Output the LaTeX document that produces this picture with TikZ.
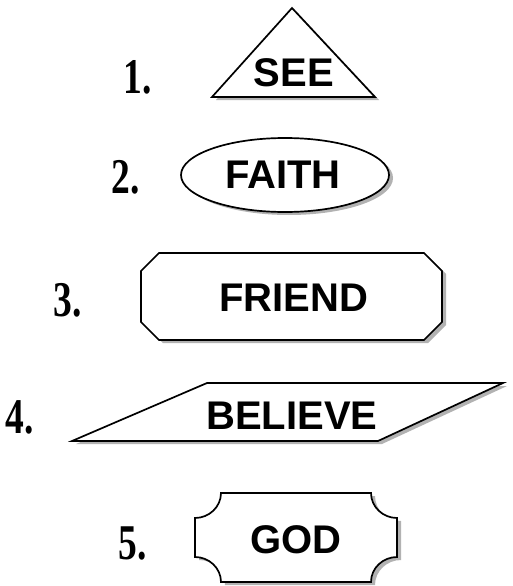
\documentclass[tikz,border=0pt]{standalone}
\usepackage{fontspec}
\setmainfont{Liberation Serif}
\newfontfamily\wordfont{Liberation Sans}
\begin{document}
\begin{tikzpicture}[x=1pt,y=-1pt,
  outline/.style={draw=black,line width=1.7pt,fill=white,line join=miter},
  shadowfill/.style={fill=gray!60,draw=none},
  word/.style={font=\wordfont\bfseries\fontsize{40}{46}\selectfont, inner sep=0pt},
  num/.style={font=\bfseries\fontsize{50}{56}\selectfont, inner sep=0pt}]
\useasboundingbox[fill=white] (0,0) rectangle (512,586);
% 1. triangle
\fill[shadowfill] (296,11) -- (379,100) -- (216,100) -- cycle;
\draw[outline] (292,8) -- (375,97) -- (212,97) -- cycle;
\node[word] (see) at (294,73) {SEE};
\node[num] (n1) at (138,77) {\scalebox{0.75}[1]{1.}};
% 2. ellipse
\fill[shadowfill] (289,178) ellipse [x radius=104, y radius=37];
\draw[outline] (285,175) ellipse [x radius=104, y radius=37];
\node[word] (faith) at (283,175) {FAITH};
\node[num] (n2) at (126,177) {\scalebox{0.75}[1]{2.}};
% 3. octagon
\fill[shadowfill] (163,256) -- (428,256) -- (446,274) -- (446,325) -- (428,343) -- (163,343) -- (145,325) -- (145,274) -- cycle;
\draw[outline] (159,253) -- (424,253) -- (442,271) -- (442,322) -- (424,340) -- (159,340) -- (141,322) -- (141,271) -- cycle;
\node[word] (friend) at (294,298) {FRIEND};
\node[num] (n3) at (68,300) {\scalebox{0.75}[1]{3.}};
% 4. parallelogram
\fill[shadowfill] (211,386) -- (507,386) -- (382,444) -- (76,444) -- cycle;
\draw[outline] (207,383) -- (503,383) -- (378,441) -- (72,441) -- cycle;
\node[word] (believe) at (292,416) {BELIEVE};
\node[num] (n4) at (20,417) {\scalebox{0.75}[1]{4.}};
% 5. plaque
\begin{scope}[shift={(4,3)}]
\fill[shadowfill] (221,493) -- (371,493)
  .. controls (371,507) and (383,518) .. (397,518) -- (397,557)
  .. controls (383,557) and (371,568) .. (371,582) -- (221,582)
  .. controls (221,568) and (209,557) .. (195,557) -- (195,518)
  .. controls (209,518) and (221,507) .. (221,493) -- cycle;
\end{scope}
\draw[outline] (221,493) -- (371,493)
  .. controls (371,507) and (383,518) .. (397,518) -- (397,557)
  .. controls (383,557) and (371,568) .. (371,582) -- (221,582)
  .. controls (221,568) and (209,557) .. (195,557) -- (195,518)
  .. controls (209,518) and (221,507) .. (221,493) -- cycle;
\node[word] (god) at (296,540) {GOD};
\node[num] (n5) at (133,543) {\scalebox{0.75}[1]{5.}};
\end{tikzpicture}
\end{document}
